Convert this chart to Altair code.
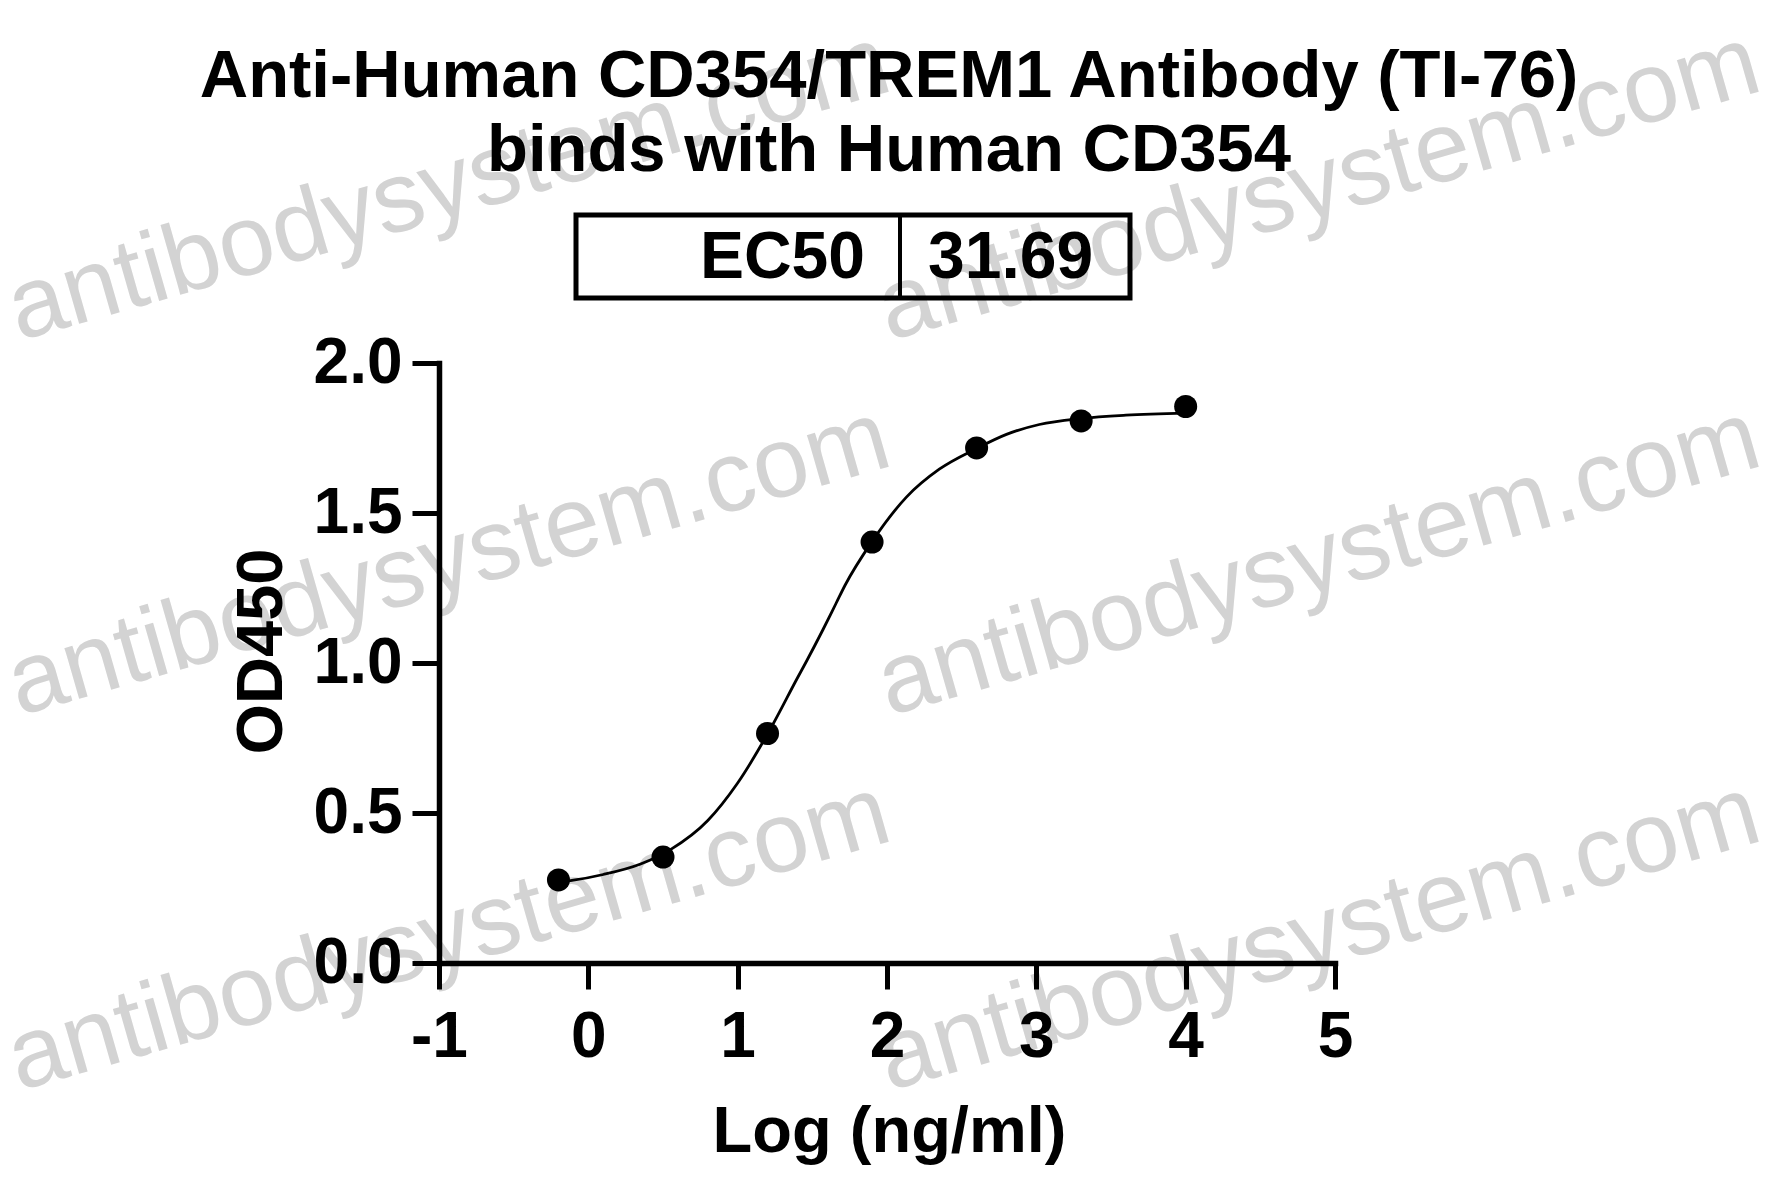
import altair as alt
import pandas as pd

# ---- data ----
title_lines = ["Anti-Human CD354/TREM1 Antibody (TI-76)", "binds with Human CD354"]
ec50_label = "EC50"
ec50_value = "31.69"
x_ticks = [-1, 0, 1, 2, 3, 4, 5]
y_ticks = [0.0, 0.5, 1.0, 1.5, 2.0]
log_conc = [-0.2, 0.5, 1.2, 1.9, 2.6, 3.3, 4.0]
od450 = [0.277, 0.353, 0.765, 1.403, 1.717, 1.807, 1.855]
curve_x = [-0.2, -0.1, 0.1, 0.35, 0.55, 0.8, 1.0, 1.23, 1.4, 1.46, 1.57, 1.66,
           1.72, 1.9, 2.13, 2.35, 2.6, 2.8, 3.02, 3.3, 3.6, 4.0]
curve_y = [0.27, 0.276, 0.295, 0.33, 0.378, 0.475, 0.60, 0.79, 0.95, 1.005, 1.11,
           1.20, 1.26, 1.405, 1.553, 1.646, 1.715, 1.762, 1.795, 1.815, 1.826, 1.833]
watermark = "antibodysystem.com"

# ---- layout / style ----
W, H = 896, 600
FONT = "Liberation Sans"
BLACK = "#000000"

pts = pd.DataFrame({"x": log_conc, "y": od450})
crv = pd.DataFrame({"x": curve_x, "y": curve_y})

xs = alt.Scale(domain=[-1, 5], nice=False, zero=False)
ys = alt.Scale(domain=[0, 2], nice=False, zero=False)

x_axis = alt.Axis(
    values=x_ticks, labelExpr="'' + datum.value", title="Log (ng/ml)", grid=False,
    domainColor=BLACK, domainWidth=5.5, domainCap="square",
    tickColor=BLACK, tickWidth=5, tickSize=26,
    labelFont=FONT, labelFontSize=64, labelFontWeight="bold", labelColor=BLACK,
    labelPadding=16, labelFlush=False, labelOverlap=False,
    titleFont=FONT, titleFontSize=65, titleFontWeight="bold", titleColor=BLACK,
    titleX=450, titleY=188, titleBaseline="alphabetic", titleAlign="center",
    zindex=1,
)
y_axis = alt.Axis(
    values=y_ticks, labelExpr="format(datum.value, '.1f')", title="OD450", grid=False,
    domainColor=BLACK, domainWidth=5.5, domainCap="square",
    tickColor=BLACK, tickWidth=5, tickSize=27,
    labelFont=FONT, labelFontSize=64, labelFontWeight="bold", labelColor=BLACK,
    labelPadding=10, labelFlush=False, labelOverlap=False,
    titleFont=FONT, titleFontSize=65, titleFontWeight="bold", titleColor=BLACK,
    titleX=-158, titleY=288, titleBaseline="alphabetic", titleAlign="center", titleAngle=270,
    zindex=1,
)

one = alt.Data(values=[{}])

# watermark (behind everything)
wm_pos = [(-420, -22), (450, -22), (-420, 353), (450, 353), (-420, 728), (450, 728)]
wm_layers = [
    alt.Chart(one).mark_text(
        text=watermark, font=FONT, fontSize=100, color="#d3d3d3",
        align="left", baseline="alphabetic", angle=344,
    ).encode(x=alt.value(px), y=alt.value(py))
    for px, py in wm_pos
]

curve = alt.Chart(crv).mark_line(color=BLACK, strokeWidth=2.8, interpolate="monotone").encode(
    x=alt.X("x:Q", scale=xs, axis=x_axis),
    y=alt.Y("y:Q", scale=ys, axis=y_axis),
)
points = alt.Chart(pts).mark_point(filled=True, size=530, color=BLACK, opacity=1, shape="circle").encode(
    x=alt.X("x:Q", scale=xs),
    y=alt.Y("y:Q", scale=ys),
)

title1 = alt.Chart(one).mark_text(
    text=title_lines[0], font=FONT, fontSize=67, fontWeight="bold", color=BLACK,
    align="center", baseline="alphabetic",
).encode(x=alt.value(450), y=alt.value(-266))
title2 = alt.Chart(one).mark_text(
    text=title_lines[1], font=FONT, fontSize=67, fontWeight="bold", color=BLACK,
    align="center", baseline="alphabetic",
).encode(x=alt.value(450), y=alt.value(-192))

box = alt.Chart(one).mark_rect(filled=False, stroke=BLACK, strokeWidth=5).encode(
    x=alt.value(137), x2=alt.value(691), y=alt.value(-148), y2=alt.value(-65)
)
divider = alt.Chart(one).mark_rule(color=BLACK, strokeWidth=4).encode(
    x=alt.value(461), y=alt.value(-148), y2=alt.value(-65)
)
ec_lab = alt.Chart(one).mark_text(
    text=ec50_label, font=FONT, fontSize=66, fontWeight="bold", color=BLACK,
    align="right", baseline="alphabetic",
).encode(x=alt.value(426), y=alt.value(-85))
ec_val = alt.Chart(one).mark_text(
    text=ec50_value, font=FONT, fontSize=66, fontWeight="bold", color=BLACK,
    align="left", baseline="alphabetic",
).encode(x=alt.value(489), y=alt.value(-85))

chart = alt.layer(
    *wm_layers, curve, points, title1, title2, box, divider, ec_lab, ec_val
).properties(
    width=W, height=H,
    autosize=alt.AutoSizeParams(type="none"),
    padding={"left": 431, "top": 355, "right": 437, "bottom": 226},
    background="white",
).configure_view(stroke=None)

chart.save("out.html", embed_options={"renderer": "svg", "actions": False})
